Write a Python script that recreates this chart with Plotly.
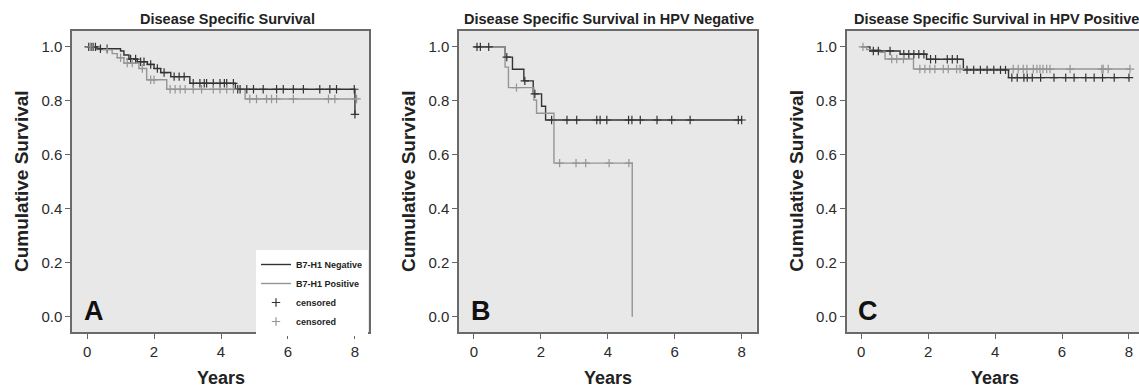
import plotly.graph_objects as go

# ---------------- DATA ----------------
years_ticks = [0, 2, 4, 6, 8]
surv_ticks = [0.0, 0.2, 0.4, 0.6, 0.8, 1.0]
surv_tick_text = ["0.0", "0.2", "0.4", "0.6", "0.8", "1.0"]

titles = ["Disease Specific Survival",
          "Disease Specific Survival in HPV Negative",
          "Disease Specific Survival in HPV Positive"]
letters = ["A", "B", "C"]
group_names = ["B7-H1 Negative", "B7-H1 Positive"]

# Panel A - all patients
A_neg_t = [0.3, 1.0, 1.1, 1.25, 1.5, 1.8, 2.0, 2.2, 2.5, 3.07, 4.43, 8.0]
A_neg_s = [0.993, 0.985, 0.97, 0.955, 0.945, 0.935, 0.92, 0.905, 0.89, 0.865, 0.843, 0.75]
A_neg_end = 8.0
A_neg_cens = [0.05, 0.12, 0.18, 0.25, 0.4, 0.6, 1.3, 1.45, 1.6, 1.7, 1.9, 2.1, 2.3, 2.6,
              2.75, 2.9, 3.17, 3.37, 3.5, 3.57, 3.77, 3.97, 4.1, 4.17, 4.37, 4.5, 4.57,
              4.77, 4.97, 5.26, 5.66, 5.86, 6.16, 6.46, 6.95, 7.25, 7.45, 7.98, 8.0]
A_pos_t = [0.3, 0.75, 0.9, 1.1, 1.55, 1.78, 2.38, 4.72]
A_pos_s = [0.99, 0.975, 0.96, 0.94, 0.92, 0.878, 0.843, 0.807]
A_pos_end = 8.05
A_pos_cens = [0.1, 0.6, 1.0, 1.2, 1.35, 1.65, 1.9, 2.0, 2.48, 2.63, 2.78, 2.93, 3.17,
              3.42, 3.77, 3.97, 4.17, 4.37, 4.86, 5.06, 5.36, 5.51, 5.66, 6.16, 7.21,
              7.4, 8.05]

# Panel B - HPV negative
B_neg_t = [0.93, 1.15, 1.49, 1.77, 2.02, 2.14]
B_neg_s = [0.962, 0.917, 0.874, 0.826, 0.78, 0.729]
B_neg_end = 8.0
B_neg_cens = [0.09, 0.19, 0.44, 0.98, 1.52, 1.82, 2.32, 2.78, 3.07, 3.67, 3.77, 3.97,
              4.62, 4.72, 4.97, 5.47, 5.91, 6.46, 7.9, 8.0]
B_pos_t = [0.93, 1.03, 1.79, 1.87, 2.39, 4.73]
B_pos_s = [0.925, 0.849, 0.803, 0.754, 0.569, 0.0]
B_pos_end = 4.73
B_pos_cens = [1.27, 2.56, 3.05, 3.34, 4.04, 4.63]

# Panel C - HPV positive
C_neg_t = [0.26, 1.16, 1.95, 3.05, 4.4]
C_neg_s = [0.985, 0.973, 0.954, 0.915, 0.886]
C_neg_end = 8.0
C_neg_cens = [0.36, 0.51, 0.86, 1.27, 1.42, 1.57, 1.72, 1.87, 2.07, 2.22, 2.57, 2.72,
              2.87, 3.16, 3.36, 3.56, 3.76, 3.96, 4.16, 4.31, 4.5, 4.66, 4.86, 4.96,
              5.11, 5.36, 5.76, 6.11, 6.36, 6.71, 6.96, 7.21, 7.56, 8.0]
C_pos_t = [0.16, 0.56, 0.71, 1.56]
C_pos_s = [0.99, 0.98, 0.955, 0.918]
C_pos_end = 8.03
C_pos_cens = [0.05, 0.91, 1.06, 1.26, 1.75, 1.9, 2.05, 2.2, 2.45, 2.6, 2.85, 2.95,
              4.54, 4.69, 4.84, 4.95, 5.14, 5.25, 5.34, 5.43, 5.54, 5.64, 6.24, 7.19,
              7.23, 7.38, 8.03]

panels = [
    (A_neg_t, A_neg_s, A_neg_end, A_neg_cens, A_pos_t, A_pos_s, A_pos_end, A_pos_cens),
    (B_neg_t, B_neg_s, B_neg_end, B_neg_cens, B_pos_t, B_pos_s, B_pos_end, B_pos_cens),
    (C_neg_t, C_neg_s, C_neg_end, C_neg_cens, C_pos_t, C_pos_s, C_pos_end, C_pos_cens),
]

# ---------------- STYLE / LAYOUT ----------------
W, H = 1139, 388
DARK = "#333333"
LIGHT = "#959595"
FONT = "Arial, Liberation Sans, sans-serif"

px_left = [72, 459, 846.7]
px_right = [369, 756.7, 1139]
px_top, px_bottom = 31, 332
x_ranges = [[-0.45, 8.42], [-0.448, 8.45], [-0.436, 8.3]]
y_range = [-0.057, 1.059]
title_cx = [227, 609, 996]


def step_value(t, ev_t, ev_s):
    v = 1.0
    for et, es in zip(ev_t, ev_s):
        if et <= t:
            v = es
    return v


def curve(ev_t, ev_s, end):
    xs = [0.0] + list(ev_t)
    ys = [1.0] + list(ev_s)
    if end > xs[-1]:
        xs.append(end)
        ys.append(ys[-1])
    return xs, ys


fig = go.Figure()

for i, (nt, ns, ne, nc, pt, ps, pe, pc) in enumerate(panels):
    xa = "x" if i == 0 else f"x{i+1}"
    ya = "y" if i == 0 else f"y{i+1}"
    show = i == 0
    for (et, es, end, col, name) in [
        (nt, ns, ne, DARK, group_names[0]),
        (pt, ps, pe, LIGHT, group_names[1]),
    ]:
        xs, ys = curve(et, es, end)
        fig.add_trace(go.Scatter(
            x=xs, y=ys, mode="lines", line=dict(color=col, width=1.4, shape="hv"),
            name=f"<b>{name}</b>", showlegend=show,
            xaxis=xa, yaxis=ya, hoverinfo="skip"))
    for (et, es, cens, col) in [(nt, ns, nc, DARK), (pt, ps, pc, LIGHT)]:
        fig.add_trace(go.Scatter(
            x=cens, y=[step_value(t, et, es) for t in cens], mode="markers",
            marker=dict(symbol="cross-thin", size=6, color=col,
                        line=dict(color=col, width=1.2)),
            name="<b>censored</b>", showlegend=show,
            xaxis=xa, yaxis=ya, hoverinfo="skip"))

layout = dict(
    width=W, height=H,
    margin=dict(l=0, r=0, t=0, b=0),
    paper_bgcolor="white", plot_bgcolor="#e8e8e8",
    font=dict(family=FONT, color="#333333"),
    showlegend=True,
    legend=dict(x=256 / W, y=1 - 250 / H, xanchor="left", yanchor="top",
                bgcolor="white", borderwidth=0,
                font=dict(family=FONT, size=9, color="#222222"),
                tracegroupgap=0, itemwidth=30),
)

annotations = []
for i in range(3):
    xk = "xaxis" if i == 0 else f"xaxis{i+1}"
    yk = "yaxis" if i == 0 else f"yaxis{i+1}"
    xa = "x" if i == 0 else f"x{i+1}"
    ya = "y" if i == 0 else f"y{i+1}"
    layout[xk] = dict(
        domain=[px_left[i] / W, min(px_right[i] / W, 1.0)], anchor=ya,
        range=x_ranges[i], tickvals=years_ticks, ticks="outside", ticklen=5,
        tickcolor="#666666", tickwidth=1.2, showline=True, linecolor="#6a6a6a",
        linewidth=1.5, mirror=True, showgrid=False, zeroline=False,
        tickfont=dict(family=FONT, size=15, color="#2a2a2a"))
    layout[yk] = dict(
        domain=[1 - px_bottom / H, 1 - px_top / H], anchor=xa,
        range=y_range, tickvals=surv_ticks, ticktext=surv_tick_text,
        ticks="outside", ticklen=5, tickcolor="#666666", tickwidth=1.2,
        showline=True, linecolor="#6a6a6a", linewidth=1.5,
        mirror=(i < 2), showgrid=False, zeroline=False,
        tickfont=dict(family=FONT, size=15, color="#2a2a2a"))
    annotations.append(dict(
        text=f"<b>{titles[i]}</b>", xref="paper", yref="paper",
        x=title_cx[i] / W, y=1 - 18.5 / H, xanchor="center", yanchor="middle",
        showarrow=False, font=dict(family=FONT, size=14.5, color="#222222")))
    annotations.append(dict(
        text="<b>Cumulative Survival</b>", xref="paper", yref="paper",
        x=(px_left[i] - 51) / W, y=1 - 181 / H, xanchor="center",
        yanchor="middle", textangle=-90, showarrow=False,
        font=dict(family=FONT, size=19, color="#222222")))
    annotations.append(dict(
        text="<b>Years</b>", xref=xa, yref="paper", x=4, y=1 - 378 / H,
        xanchor="center", yanchor="middle", showarrow=False,
        font=dict(family=FONT, size=18, color="#222222")))
    annotations.append(dict(
        text=f"<b>{letters[i]}</b>", xref=xa, yref=ya, x=-0.15, y=0.02,
        xanchor="left", yanchor="middle", showarrow=False,
        font=dict(family=FONT, size=27, color="#111111")))

layout["annotations"] = annotations
fig.update_layout(**layout)
fig.write_html("out.html", config={"displayModeBar": False},
               post_script="document.body.style.margin='0';document.body.style.padding='0';")
